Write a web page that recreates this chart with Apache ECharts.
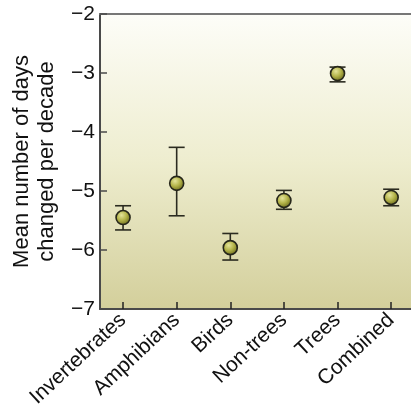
<!DOCTYPE html>
<html><head><meta charset="utf-8">
<script src="https://cdn.jsdelivr.net/npm/echarts@6/dist/echarts.min.js"></script>
<style>html,body{margin:0;padding:0;background:#fff}#c{width:411px;height:418px}</style>
</head><body><div id="c"></div>
<script>
var categories = ['Invertebrates','Amphibians','Birds','Non-trees','Trees','Combined'];
var means = [-5.45, -4.87, -5.96, -5.16, -3.01, -5.11];
var upper = [-5.25, -4.26, -5.72, -4.99, -2.90, -4.97];
var lower = [-5.66, -5.42, -6.17, -5.31, -3.15, -5.25];
var yTicks = [-7, -6, -5, -4, -3, -2];

var chart = echarts.init(document.getElementById('c'));
var font = 'Liberation Sans, Arial, sans-serif';
var axisCol = '#4a4a4a';
var pts = means.map(function(v,i){return [i, v];});
var bars = means.map(function(v,i){return [i, lower[i], upper[i]];});
var xTickVals = categories.map(function(c,i){return i;});

chart.setOption({
  animation: false,
  grid: {left: 100, top: 14, right: 0, bottom: 109, show: true, borderWidth: 0,
    backgroundColor: new echarts.graphic.LinearGradient(0,0,0,1,[
      {offset:0, color:'#fdfdf8'},{offset:0.5, color:'#eeedcf'},{offset:1, color:'#d3cf9b'}])},
  xAxis: [{
    type: 'value', min: -0.43, max: 5.37,
    axisLine: {show: true, onZero: false, lineStyle: {color: axisCol, width: 2}},
    axisTick: {show: true, inside: true, length: 7, customValues: xTickVals, lineStyle: {color: '#222', width: 1.5}},
    axisLabel: {customValues: xTickVals, rotate: 43, fontSize: 21, fontFamily: font, color: '#111', margin: 8,
      formatter: function(v){return categories[Math.round(v)];}},
    splitLine: {show: false}
  },{
    type: 'value', position: 'top', min: -0.43, max: 5.37,
    axisLine: {show: true, onZero: false, lineStyle: {color: '#777', width: 2}},
    axisTick: {show: false}, axisLabel: {show: false}, splitLine: {show: false}
  }],
  yAxis: {
    type: 'value', min: -7, max: -2, interval: 1,
    name: 'Mean number of days\nchanged per decade', nameLocation: 'middle', nameGap: 41,
    nameTextStyle: {fontSize: 22, fontFamily: font, color: '#111', lineHeight: 25},
    axisLine: {show: true, onZero: false, lineStyle: {color: axisCol, width: 2}},
    axisTick: {show: true, inside: true, length: 7, lineStyle: {color: axisCol, width: 1.5}},
    axisLabel: {fontSize: 21, fontFamily: font, color: '#111', margin: 5,
      customValues: yTicks,
      formatter: function(v){return String(v).replace('-', '\u2212');}},
    splitLine: {show: false}
  },
  series: [{
    type: 'custom',
    data: bars,
    renderItem: function(params, api){
      var x = api.value(0);
      var lo = api.coord([x, api.value(1)]);
      var hi = api.coord([x, api.value(2)]);
      var h = 8;
      var st = {stroke: '#2b2b20', lineWidth: 1.6};
      return {type: 'group', children: [
        {type: 'line', shape: {x1: lo[0], y1: lo[1], x2: hi[0], y2: hi[1]}, style: st},
        {type: 'line', shape: {x1: lo[0]-h, y1: lo[1], x2: lo[0]+h, y2: lo[1]}, style: st},
        {type: 'line', shape: {x1: hi[0]-h, y1: hi[1], x2: hi[0]+h, y2: hi[1]}, style: st}
      ]};
    },
    z: 2
  },{
    type: 'scatter',
    data: pts,
    symbolSize: 14,
    itemStyle: {
      color: new echarts.graphic.RadialGradient(0.4, 0.35, 0.65, [
        {offset:0, color:'#e4e49a'},{offset:0.5, color:'#b4b44a'},{offset:1, color:'#6c6c1c'}]),
      borderColor: '#26261a', borderWidth: 1.6, opacity: 1
    },
    z: 3
  }]
});
</script></body></html>
